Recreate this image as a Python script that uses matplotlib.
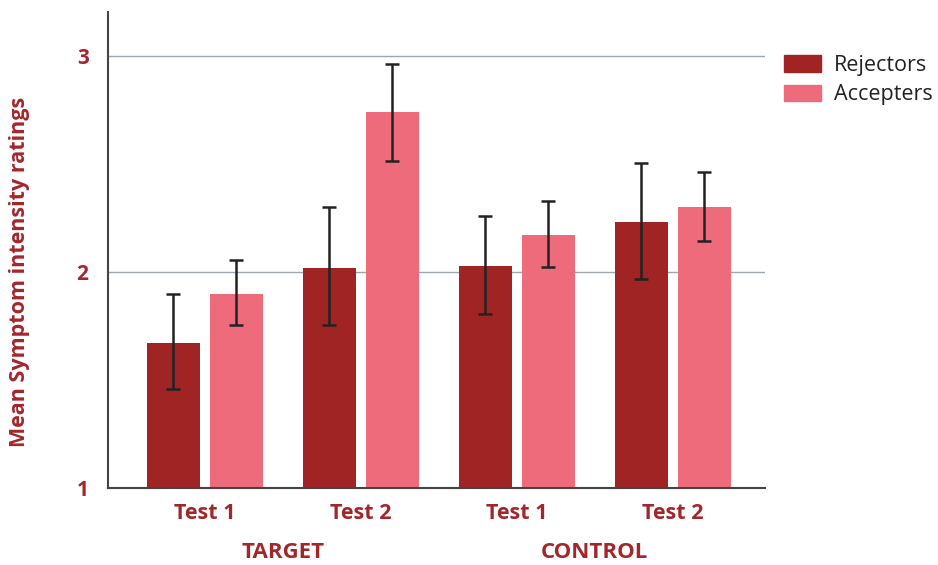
import numpy as np
import matplotlib.pyplot as plt
from matplotlib.patches import Patch

plt.rcParams['font.family'] = ['Open Sans', 'DejaVu Sans']

# --- data ---
groups = ['TARGET', 'CONTROL']
tests = ['Test 1', 'Test 2', 'Test 1', 'Test 2']
rejectors = [1.67, 2.02, 2.03, 2.23]
rejectors_lo = [1.46, 1.755, 1.806, 1.968]
rejectors_hi = [1.90, 2.30, 2.26, 2.505]
accepters = [1.90, 2.74, 2.17, 2.30]
accepters_lo = [1.755, 2.514, 2.023, 2.144]
accepters_hi = [2.056, 2.963, 2.329, 2.463]

red = '#A02424'
pink = '#EE6B7C'
txt = '#A3262B'

fig = plt.figure(figsize=(9.38, 5.65), dpi=100)
ax = fig.add_axes([0.1151, 0.1363, 0.7004, 0.8425])

x = np.arange(len(tests))
w = 0.34
off = 0.202

r = np.array(rejectors)
a = np.array(accepters)
r_err = [r - np.array(rejectors_lo), np.array(rejectors_hi) - r]
a_err = [a - np.array(accepters_lo), np.array(accepters_hi) - a]

ax.bar(x - off, r - 1, w, bottom=1, color=red, zorder=2)
ax.bar(x + off, a - 1, w, bottom=1, color=pink, zorder=2)
ek = dict(fmt='none', ecolor='#222222', elinewidth=1.8, capsize=5, capthick=1.8, zorder=3)
ax.errorbar(x - off, r, yerr=r_err, **ek)
ax.errorbar(x + off, a, yerr=a_err, **ek)

ax.set_xlim(-0.62, 3.59)
ax.set_ylim(1, 3.204)
ax.set_yticks([1, 2, 3])
ax.set_yticklabels(['1', '2', '3'], color=txt, fontweight='bold', fontsize=15)
ax.tick_params(axis='y', length=0, pad=14)
ax.set_xticks(x)
ax.set_xticklabels(tests, color=txt, fontweight='bold', fontsize=15.5)
ax.tick_params(axis='x', length=0, pad=11)

for yv in [2, 3]:
    ax.axhline(yv, color='#9AA7AE', lw=1, zorder=1)

for s in ['top', 'right']:
    ax.spines[s].set_visible(False)
for s in ['left', 'bottom']:
    ax.spines[s].set_color('#444444')
    ax.spines[s].set_linewidth(1.5)

for i, g in enumerate(groups):
    ax.text(0.5 + 2 * i, -0.136, g, transform=ax.get_xaxis_transform(),
            ha='center', va='center', color=txt, fontweight='bold', fontsize=16)

fig.text(0.021, 0.519, 'Mean Symptom intensity ratings', rotation=90,
         ha='center', va='center', color=txt, fontweight='bold', fontsize=15.5)

handles = [Patch(color=red), Patch(color=pink)]
fig.legend(handles, ['Rejectors', 'Accepters'], loc='upper left',
           bbox_to_anchor=(0.836, 0.903), frameon=False, fontsize=15.5,
           borderpad=0, borderaxespad=0,
           handlelength=1.72, handleheight=0.8, labelspacing=0.4,
           handletextpad=0.6, labelcolor='#222222')

fig.savefig('out.png', dpi=100)
